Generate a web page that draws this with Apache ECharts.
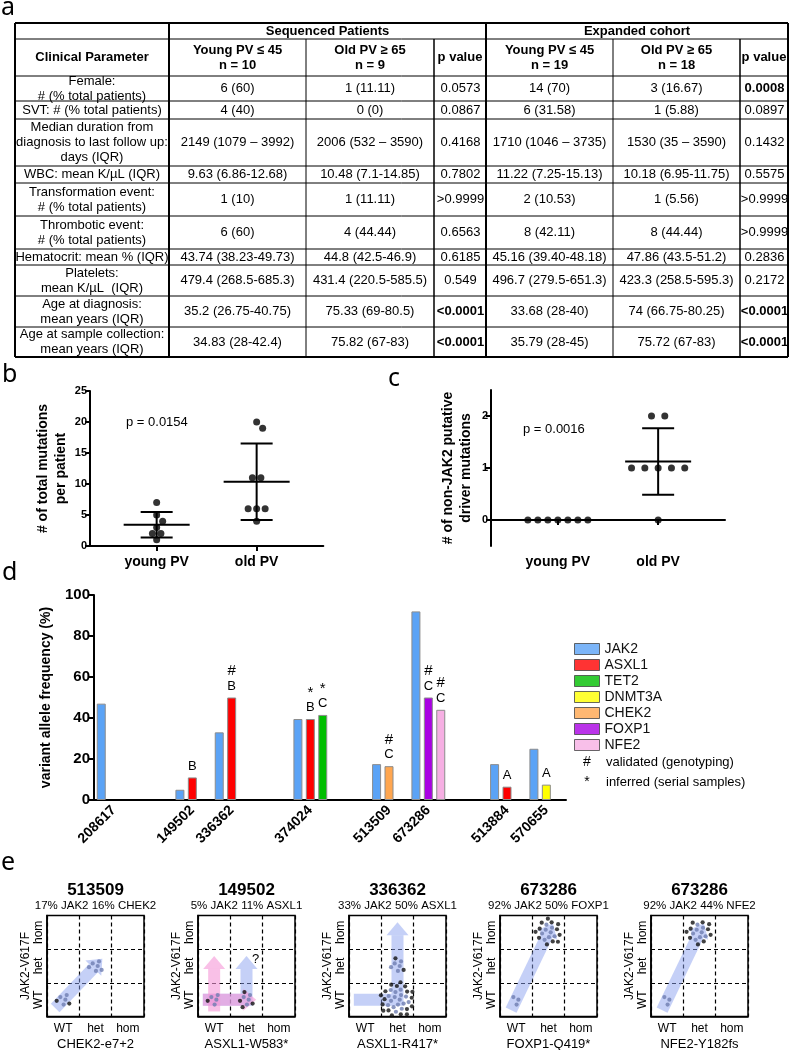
<!DOCTYPE html>
<html><head><meta charset="utf-8">
<script src="https://cdn.jsdelivr.net/npm/echarts@6/dist/echarts.min.js"></script>
<style>html,body{margin:0;padding:0;background:#fff}#c{width:792px;height:1050px}</style>
</head><body><div id="c"></div>
<script>
// ================= DATA =================
// panel a : table
const tableGroups = ['Sequenced Patients', 'Expanded cohort'];
const tableHeaders = ['Clinical Parameter', 'Young PV \u2264 45\nn = 10', 'Old PV \u2265 65\nn = 9', 'p value',
  'Young PV \u2264 45\nn = 19', 'Old PV \u2265 65\nn = 18', 'p value'];
const tableParams = ['Female:\n# (% total patients)', 'SVT: # (% total patients)',
  'Median duration from\ndiagnosis to last follow up:\ndays (IQR)', 'WBC: mean K/\u00b5L (IQR)',
  'Transformation event:\n# (% total patients)', 'Thrombotic event:\n# (% total patients)',
  'Hematocrit: mean % (IQR)', 'Platelets:\nmean K/\u00b5L  (IQR)', 'Age at diagnosis:\nmean years (IQR)',
  'Age at sample collection:\nmean years (IQR)'];
const seqYoung = ['6 (60)', '4 (40)', '2149 (1079 \u2013 3992)', '9.63 (6.86-12.68)', '1 (10)', '6 (60)',
  '43.74 (38.23-49.73)', '479.4 (268.5-685.3)', '35.2 (26.75-40.75)', '34.83 (28-42.4)'];
const seqOld = ['1 (11.11)', '0 (0)', '2006 (532 \u2013 3590)', '10.48 (7.1-14.85)', '1 (11.11)', '4 (44.44)',
  '44.8 (42.5-46.9)', '431.4 (220.5-585.5)', '75.33 (69-80.5)', '75.82 (67-83)'];
const seqP = ['0.0573', '0.0867', '0.4168', '0.7802', '>0.9999', '0.6563', '0.6185', '0.549', '<0.0001', '<0.0001'];
const expYoung = ['14 (70)', '6 (31.58)', '1710 (1046 \u2013 3735)', '11.22 (7.25-15.13)', '2 (10.53)', '8 (42.11)',
  '45.16 (39.40-48.18)', '496.7 (279.5-651.3)', '33.68 (28-40)', '35.79 (28-45)'];
const expOld = ['3 (16.67)', '1 (5.88)', '1530 (35 \u2013 3590)', '10.18 (6.95-11.75)', '1 (5.56)', '8 (44.44)',
  '47.86 (43.5-51.2)', '423.3 (258.5-595.3)', '74 (66.75-80.25)', '75.72 (67-83)'];
const expP = ['0.0008', '0.0897', '0.1432', '0.5575', '>0.9999', '>0.9999', '0.2836', '0.2172', '<0.0001', '<0.0001'];

// panel b
const bCategories = ['young PV', 'old PV'];
const bYoung = [7, 5, 4, 3, 2, 2, 1];
const bOld = [20, 19, 11, 11, 6, 6, 6, 4];
const bYName = '# of total mutations\nper patient';
const bPText = 'p = 0.0154';
// panel c
const cCategories = ['young PV', 'old PV'];
const cYoung = [0, 0, 0, 0, 0, 0, 0];
const cOld = [2, 2, 1, 1, 1, 1, 1, 0];
const cYTicks = [0, 1, 2];
const cYName = '# of non-JAK2 putative\ndriver mutations';
const cPText = 'p = 0.0016';
// panel d
const dCategories = ['208617', '', '149502', '336362', '', '374024', '', '513509', '673286', '', '513884', '570655'];
const dGenes = ['JAK2', 'ASXL1', 'TET2', 'DNMT3A', 'CHEK2', 'FOXP1', 'NFE2'];
const dBarGenes = [['JAK2'], [], ['JAK2', 'ASXL1'], ['JAK2', 'ASXL1'], [], ['JAK2', 'ASXL1', 'TET2'], [],
  ['JAK2', 'CHEK2'], ['JAK2', 'FOXP1', 'NFE2'], [], ['JAK2', 'ASXL1'], ['JAK2', 'DNMT3A']];
const dBarVaf = [[47], [], [5, 11], [33, 50], [], [39.5, 39.5, 41.5], [], [17.5, 16.5], [92, 50, 44], [], [17.5, 6.5], [25, 7.5]];
const dBarMark = [[''], [], ['', ''], ['', '#'], [], ['', '*', '*'], [], ['', '#'], ['', '#', '#'], [], ['', ''], ['', '']];
const dBarClass = [[''], [], ['', 'B'], ['', 'B'], [], ['', 'B', 'C'], [], ['', 'C'], ['', 'C', 'C'], [], ['', 'A'], ['', 'A']];
const dYName = 'variant allele frequency (%)';
const dNotes = [['#', 'validated (genotyping)'], ['*', 'inferred (serial samples)']];
// panel e
const eTitles = ['513509', '149502', '336362', '673286', '673286'];
const eSubtitles = ['17% JAK2 16% CHEK2', '5% JAK2 11% ASXL1', '33% JAK2 50% ASXL1', '92% JAK2 50% FOXP1', '92% JAK2 44% NFE2'];
const eMutations = ['CHEK2-e7+2', 'ASXL1-W583*', 'ASXL1-R417*', 'FOXP1-Q419*', 'NFE2-Y182fs'];
const eGenotypes = ['WT', 'het', 'hom'];
const eYName = 'JAK2-V617F';
// colonies per genotype cell [mutation genotype, JAK2 genotype]
const eColonies = [
  [{cell: [0, 0], gray: 4, black: 2}, {cell: [1, 1], gray: 6, black: 0}],
  [{cell: [0, 0], gray: 4, black: 1}, {cell: [1, 0], gray: 4, black: 4}],
  [{cell: [1, 0], gray: 16, black: 18}, {cell: [1, 1], gray: 5, black: 2}],
  [{cell: [0, 0], gray: 3, black: 0}, {cell: [1, 2], gray: 8, black: 12}],
  [{cell: [0, 0], gray: 3, black: 0}, {cell: [1, 2], gray: 8, black: 10}]
];
// clonal paths through genotype cells
const eArrows = [
  [{path: [[0, 0], [1, 1]], kind: 'blue', note: ''}],
  [{path: [[0, 0], [1, 0], [1, 1]], kind: 'blue', note: '?'}, {path: [[0, 0], [0, 1]], kind: 'pink', note: ''},
   {path: [[0, 0], [1, 0]], kind: 'pink', note: ''}],
  [{path: [[0, 0], [1, 0], [1, 2]], kind: 'blue', note: ''}],
  [{path: [[0, 0], [1, 2]], kind: 'blue', note: ''}],
  [{path: [[0, 0], [1, 2]], kind: 'blue', note: ''}]
];

// ================= STYLE / LAYOUT =================
const FONT = 'Liberation Sans';
const geneColors = {JAK2: '#5ba3f6', ASXL1: '#ff0000', TET2: '#00be00', DNMT3A: '#ffff00', CHEK2: '#ffa64f', FOXP1: '#a900e3', NFE2: '#f6afe3'};
const arrowColors = {blue: 'rgba(140,162,240,0.5)', pink: 'rgba(245,150,215,0.6)'};
const T = {cols: [15, 169, 306, 434, 486, 613, 740, 788], rows: [23, 39, 76, 101, 119, 166, 183, 216, 249, 265, 296, 327, 357]};
const bGrid = {left: 90, top: 391, width: 233.3, height: 155};
const cGrid = {left: 491, top: 390, width: 234, height: 156};
const dGrid = {left: 94, top: 595, width: 472, height: 205};
const eW = 97, eH = 101, eTop = 915.5;
const eLefts = [0, 1, 2, 3, 4].map(i => 47 + i * 151);
const xRange = [1 / 3, 8 / 3];

// ================= HELPERS =================
function meanSd(a) {
  const m = a.reduce((s, v) => s + v, 0) / a.length;
  const v = a.reduce((s, x) => s + (x - m) * (x - m), 0) / (a.length - 1);
  return [m, Math.sqrt(v)];
}
// simple beeswarm: equal values side by side, nearby values nudged apart (pixel space)
function swarm(values, D, pxPerY) {
  const uniq = [...new Set(values)].sort((a, b) => b - a);
  const placed = [], out = new Array(values.length);
  const shifts = [0];
  for (let k = 1; k < 12; k++) { shifts.push(k * 3, -k * 3); }
  uniq.forEach(v => {
    const idx = values.map((x, i) => x === v ? i : -1).filter(i => i >= 0);
    const n = idx.length;
    const base = idx.map((_, i) => (i - (n - 1) / 2) * D);
    for (const s of shifts) {
      const ok = base.every(b => placed.every(p => Math.hypot(b + s - p.x, (v - p.v) * pxPerY) >= D * 0.85));
      if (ok) {
        idx.forEach((ii, k) => { out[ii] = base[k] + s; placed.push({x: base[k] + s, v: v}); });
        break;
      }
    }
  });
  return out;
}
function swarmData(groups, Ds, grid) {
  const pxX = grid.width / (xRange[1] - xRange[0]);
  const pxY = grid.height / grid.ySpan;
  const data = [];
  groups.forEach((vals, g) => {
    const off = swarm(vals, Ds[g], pxY);
    vals.forEach((v, i) => data.push([g + 1 + off[i] / pxX, v]));
  });
  return data;
}
function statRender(params, api) {
  const x = api.value(0), m = api.value(1), s = api.value(2);
  const c = api.coord([x, m]);
  const st = {stroke: '#000', lineWidth: 2};
  const ch = [{type: 'line', shape: {x1: c[0] - 33, y1: c[1], x2: c[0] + 33, y2: c[1]}, style: st}];
  if (s > 0) {
    const hi = api.coord([x, m + s]), lo = api.coord([x, m - s]);
    ch.push({type: 'line', shape: {x1: c[0], y1: hi[1], x2: c[0], y2: lo[1]}, style: st});
    ch.push({type: 'line', shape: {x1: c[0] - 16, y1: hi[1], x2: c[0] + 16, y2: hi[1]}, style: st});
    ch.push({type: 'line', shape: {x1: c[0] - 16, y1: lo[1], x2: c[0] + 16, y2: lo[1]}, style: st});
  }
  return {type: 'group', children: ch};
}
function arrowRenderer(pi) {
  return function (params, api) {
    const a = eArrows[pi][api.value(0)];
    const pts = a.path.map(c => [c[0] + 0.5, c[1] + 0.5]);
    const ext = (p, q, d) => { const dx = q[0] - p[0], dy = q[1] - p[1], L = Math.hypot(dx, dy); return [p[0] - dx / L * d, p[1] - dy / L * d]; };
    const n = pts.length;
    pts[0] = ext(pts[0], pts[1], 0.35);
    pts[n - 1] = ext(pts[n - 1], pts[n - 2], 0.3);
    const px = pts.map(p => api.coord(p));
    const tip = px[n - 1], prev = px[n - 2];
    const L = Math.hypot(tip[0] - prev[0], tip[1] - prev[1]);
    const ux = (tip[0] - prev[0]) / L, uy = (tip[1] - prev[1]) / L;
    const headLen = 13, hw = 11, w = 12;
    const base = [tip[0] - ux * headLen, tip[1] - uy * headLen];
    const nx = -uy, ny = ux;
    const color = arrowColors[a.kind];
    const ch = [
      {type: 'polyline', shape: {points: px.slice(0, n - 1).concat([base])}, style: {stroke: color, lineWidth: w, fill: null, lineJoin: 'miter', lineCap: 'butt'}},
      {type: 'polygon', shape: {points: [[base[0] + nx * hw, base[1] + ny * hw], tip, [base[0] - nx * hw, base[1] - ny * hw]]}, style: {fill: color}}
    ];
    if (a.note) {
      ch.push({type: 'text', style: {text: a.note, x: tip[0] + 9, y: tip[1] + 4, fontSize: 13, fontFamily: FONT, fill: '#000',
        align: 'center', verticalAlign: 'middle', textAlign: 'center', textVerticalAlign: 'middle'}});
    }
    return {type: 'group', children: ch};
  };
}
function colonyData(pi) {
  const pxX = eW / 3, pxY = eH / 3, cs = 3.1, out = [];
  eColonies[pi].forEach(cl => {
    const tot = cl.gray + cl.black;
    for (let i = 0; i < tot; i++) {
      const r = cs * Math.sqrt(i + 0.5), th = i * 2.39996;
      out.push({value: [cl.cell[0] + 0.5 + r * Math.cos(th) / pxX, cl.cell[1] + 0.5 + r * Math.sin(th) / pxY],
        itemStyle: {color: i < cl.gray ? '#6e7db0' : '#111'}});
    }
  });
  return out;
}
function txt(text, x, y, o) {
  o = o || {};
  const align = o.align || 'center', va = o.va || 'middle';
  return {type: 'text', silent: true, z: 10, style: {text: text, x: x, y: y, fontSize: o.size || 13, fontFamily: o.family || FONT,
    fontWeight: o.bold ? 'bold' : 'normal', fill: o.color || '#000', lineHeight: o.lh || 15,
    align: align, verticalAlign: va, textAlign: align, textVerticalAlign: va}};
}
function ln(x1, y1, x2, y2, w) {
  return {type: 'line', silent: true, z: 10, shape: {x1: x1, y1: y1, x2: x2, y2: y2}, style: {stroke: '#000', lineWidth: w}};
}
function buildTable() {
  const els = [], C = T.cols, R = T.rows;
  R.forEach((y, i) => els.push(ln(C[0], y, C[7], y, (i === 0 || i === R.length - 1) ? 2 : 1)));
  [0, 1, 4, 7].forEach(j => els.push(ln(C[j], R[0], C[j], R[R.length - 1], 2)));
  [2, 5].forEach(j => els.push(ln(C[j], R[1], C[j], R[R.length - 1], 1)));
  [3, 6].forEach(j => els.push(ln(C[j], R[1], C[j], R[R.length - 1], 1.5)));
  const mid = (a, b) => (a + b) / 2;
  els.push(txt(tableGroups[0], mid(C[1], C[4]), mid(R[0], R[1]), {bold: true}));
  els.push(txt(tableGroups[1], mid(C[4], C[7]), mid(R[0], R[1]), {bold: true}));
  tableHeaders.forEach((h, j) => els.push(txt(h, mid(C[j], C[j + 1]), mid(R[1], R[2]), {bold: true})));
  const isSig = p => p.charAt(0) === '<' || (!isNaN(parseFloat(p)) && p.charAt(0) !== '>' && parseFloat(p) < 0.05);
  const cols = [tableParams, seqYoung, seqOld, seqP, expYoung, expOld, expP];
  tableParams.forEach((_, r) => {
    const y = mid(R[r + 2], R[r + 3]);
    cols.forEach((col, j) => {
      const pcol = (j === 3 || j === 6);
      els.push(txt(col[r], mid(C[j], C[j + 1]) + (pcol ? 0.5 : 0), y, {bold: pcol && isSig(col[r])}));
    });
  });
  return els;
}

// ================= OPTION =================
bGrid.ySpan = 25; cGrid.ySpan = 3;
const bStats = [meanSd(bYoung), meanSd(bOld)];
const cStats = [meanSd(cYoung), meanSd(cOld)];

const axisBlack = {lineStyle: {color: '#000', width: 2}};
function statAxisX(cats, gi) {
  return {gridIndex: gi, type: 'value', min: xRange[0], max: xRange[1], axisLine: axisBlack,
    axisTick: {show: true, customValues: [1, 2], length: 5, lineStyle: {color: '#000', width: 2}},
    axisLabel: {customValues: [1, 2], formatter: v => cats[Math.round(v) - 1], color: '#000', fontWeight: 'bold', fontSize: 14, fontFamily: FONT, margin: 9},
    splitLine: {show: false}};
}

const grids = [bGrid, cGrid, dGrid].map(g => ({left: g.left, top: g.top, width: g.width, height: g.height, outerBoundsMode: 'none', containLabel: false}));
eLefts.forEach(l => grids.push({left: l, top: eTop, width: eW, height: eH, show: true, borderColor: '#000', borderWidth: 1.5, backgroundColor: 'transparent', outerBoundsMode: 'none', containLabel: false}));

const xAxes = [statAxisX(bCategories, 0), statAxisX(cCategories, 1),
  {gridIndex: 2, type: 'category', data: dCategories, axisLine: axisBlack,
    axisTick: {alignWithLabel: true, interval: 0, length: 5, lineStyle: {color: '#000', width: 2}},
    axisLabel: {interval: 0, rotate: 45, color: '#000', fontWeight: 'bold', fontSize: 14, fontFamily: FONT, margin: 8}}];
const yAxes = [
  {gridIndex: 0, type: 'value', min: 0, max: 25, interval: 5, axisLine: Object.assign({show: true}, axisBlack),
    axisTick: {show: true, length: 5, lineStyle: {color: '#000', width: 2}}, splitLine: {show: false},
    axisLabel: {color: '#000', fontWeight: 'bold', fontSize: 11, fontFamily: FONT, margin: 3},
    name: bYName, nameLocation: 'middle', nameRotate: 90, nameGap: 20,
    nameTextStyle: {fontWeight: 'bold', fontSize: 14, fontFamily: FONT, color: '#000', lineHeight: 18}},
  {gridIndex: 1, type: 'value', min: -0.5, max: 2.5, axisLine: Object.assign({show: true}, axisBlack),
    axisTick: {show: true, customValues: cYTicks, length: 5, lineStyle: {color: '#000', width: 2}}, splitLine: {show: false},
    axisLabel: {customValues: cYTicks, color: '#000', fontWeight: 'bold', fontSize: 11, fontFamily: FONT, margin: 3},
    name: cYName, nameLocation: 'middle', nameRotate: 90, nameGap: 16,
    nameTextStyle: {fontWeight: 'bold', fontSize: 14, fontFamily: FONT, color: '#000', lineHeight: 18}},
  {gridIndex: 2, type: 'value', min: 0, max: 100, interval: 20, axisLine: Object.assign({show: true}, axisBlack),
    axisTick: {show: true, length: 5, lineStyle: {color: '#000', width: 2}}, splitLine: {show: false},
    axisLabel: {color: '#000', fontWeight: 'bold', fontSize: 15, fontFamily: FONT, margin: 4},
    name: dYName, nameLocation: 'middle', nameRotate: 90, nameGap: 41,
    nameTextStyle: {fontWeight: 'bold', fontSize: 14, fontFamily: FONT, color: '#000'}}
];
eLefts.forEach((_, i) => {
  const common = {gridIndex: 3 + i, type: 'value', min: 0, max: 3, interval: 1,
    axisLine: {show: true, lineStyle: {color: '#000', width: 1.5}}, axisTick: {show: false},
    splitLine: {show: true, lineStyle: {color: '#000', width: 1.2, type: [4, 3]}}};
  xAxes.push(Object.assign({}, common, {
    axisLabel: {customValues: [0.5, 1.5, 2.5], formatter: v => eGenotypes[Math.floor(v)], color: '#000', fontSize: 12, fontFamily: FONT, margin: 6},
    name: eMutations[i], nameLocation: 'middle', nameGap: 21, nameTextStyle: {fontSize: 13, fontFamily: FONT, color: '#000'}}));
  yAxes.push(Object.assign({}, common, {
    axisLabel: {customValues: [0.5, 1.5, 2.5], formatter: v => eGenotypes[Math.floor(v)], rotate: 90, color: '#000', fontSize: 12, fontFamily: FONT, margin: 2},
    name: eYName, nameLocation: 'middle', nameRotate: 90, nameGap: 14, nameTextStyle: {fontSize: 12, fontFamily: FONT, color: '#000'}}));
});

const series = [];
series.push({type: 'scatter', xAxisIndex: 0, yAxisIndex: 0, symbolSize: 7, itemStyle: {color: '#000'}, z: 4,
  data: swarmData([bYoung, bOld], [8.5, 8.5], bGrid)});
series.push({type: 'custom', xAxisIndex: 0, yAxisIndex: 0, z: 3, renderItem: statRender, encode: {x: 0, y: 1},
  data: bStats.map((s, i) => [i + 1, s[0], s[1]])});
series.push({type: 'scatter', xAxisIndex: 1, yAxisIndex: 1, symbolSize: 7, itemStyle: {color: '#000'}, z: 4,
  data: swarmData([cYoung, cOld], [10, 13.3], cGrid)});
series.push({type: 'custom', xAxisIndex: 1, yAxisIndex: 1, z: 3, renderItem: statRender, encode: {x: 0, y: 1},
  data: cStats.map((s, i) => [i + 1, s[0], s[1]])});
for (let j = 0; j < 3; j++) {
  series.push({type: 'bar', xAxisIndex: 2, yAxisIndex: 2, barWidth: 9, barGap: '38%',
    itemStyle: {borderColor: '#8c8c8c', borderWidth: 1},
    data: dBarVaf.map((arr, i) => {
      if (arr[j] === undefined) return '-';
      const mk = dBarMark[i][j], cl = dBarClass[i][j];
      const lab = mk ? '{m|' + mk + '}\n{g|' + cl + '}' : (cl ? '{g|' + cl + '}' : '');
      return {value: arr[j], itemStyle: {color: geneColors[dBarGenes[i][j]]},
        label: {show: !!lab, position: 'top', distance: 4, formatter: lab,
          rich: {m: {fontSize: 15, fontFamily: FONT, color: '#000', lineHeight: 15}, g: {fontSize: 13, fontFamily: FONT, color: '#000', lineHeight: 15}}}};
    })});
}
dGenes.forEach(g => series.push({type: 'scatter', name: g, xAxisIndex: 2, yAxisIndex: 2, data: [], itemStyle: {color: geneColors[g]}}));
eLefts.forEach((_, i) => {
  series.push({type: 'custom', xAxisIndex: 3 + i, yAxisIndex: 3 + i, z: 2, renderItem: arrowRenderer(i),
    data: eArrows[i].map((a, k) => [k]), encode: {x: 0}});
  series.push({type: 'scatter', xAxisIndex: 3 + i, yAxisIndex: 3 + i, z: 4, symbolSize: 4.2, data: colonyData(i)});
});

const graphic = buildTable();
[['a', 1, -5], ['b', 2, 362], ['c', 388, 366], ['d', 2, 560], ['e', 1, 850]].forEach(p =>
  graphic.push(txt(p[0], p[1], p[2], {size: 25, family: 'Noto Sans', align: 'left', va: 'top', lh: 26})));
graphic.push(txt(bPText, 126, 422, {align: 'left'}));
graphic.push(txt(cPText, 523, 429, {align: 'left'}));
dNotes.forEach((n, i) => {
  graphic.push(txt(n[0], 587, 762 + i * 20, {size: 14}));
  graphic.push(txt(n[1], 606, 762 + i * 20, {align: 'left'}));
});
eLefts.forEach((l, i) => {
  graphic.push(txt(eTitles[i], l + eW / 2, 890, {size: 17, bold: true}));
  graphic.push(txt(eSubtitles[i], l + eW / 2, 906, {size: 11.5}));
});

const option = {
  animation: false,
  backgroundColor: '#fff',
  textStyle: {fontFamily: FONT},
  grid: grids, xAxis: xAxes, yAxis: yAxes, series: series, graphic: graphic,
  legend: {data: dGenes, orient: 'vertical', left: 574, top: 641, padding: 0, itemGap: 0, itemWidth: 25, itemHeight: 11,
    icon: 'rect', selectedMode: false, itemStyle: {borderColor: '#444', borderWidth: 1},
    textStyle: {fontSize: 14, fontFamily: FONT, color: '#111', lineHeight: 16}}
};
const chart = echarts.init(document.getElementById('c'), null, {renderer: 'canvas'});
chart.setOption(option);
</script></body></html>
